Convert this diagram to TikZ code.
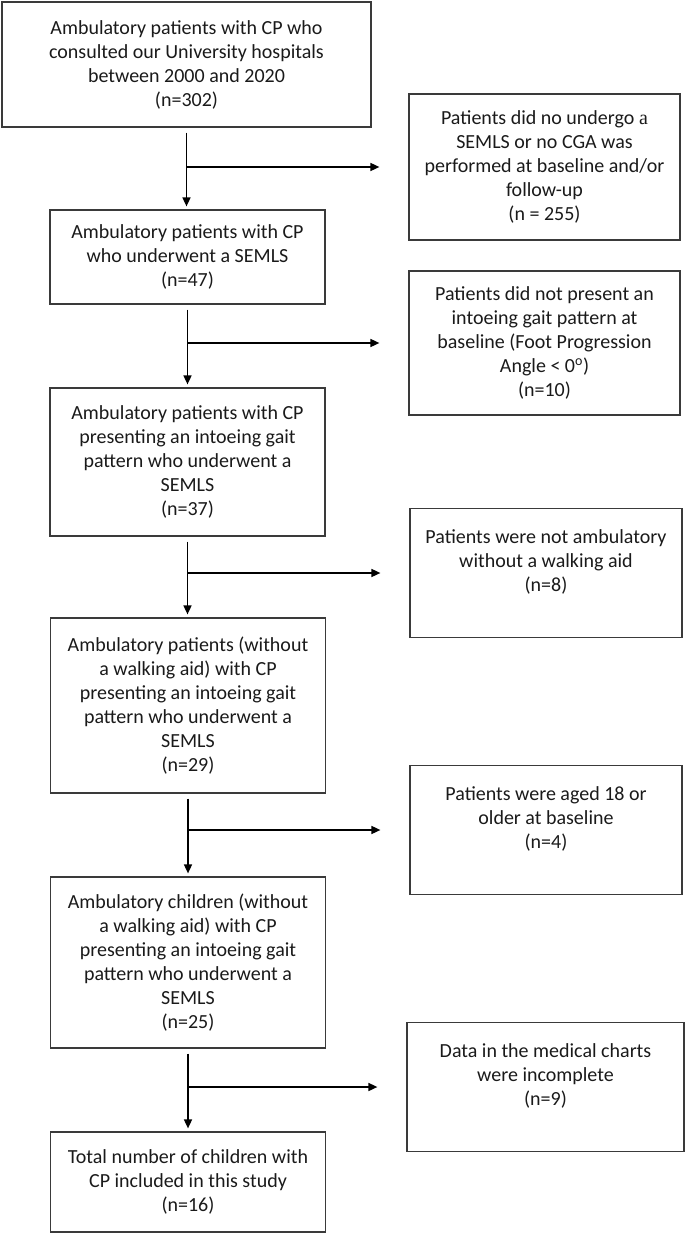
\documentclass[tikz,border=0pt]{standalone}
\usepackage{fontspec}
\setmainfont{Carlito}
\newfontfamily\serifa{Liberation Serif}
\usetikzlibrary{arrows.meta}
\definecolor{boxline}{HTML}{3A3A3A}
\definecolor{txt}{HTML}{1A1A1A}
\begin{document}
\begin{tikzpicture}[x=1pt,y=-1pt,
  flowbox/.style={draw=boxline,line width=1.2pt,inner sep=0pt,align=center,
    text=txt,font=\fontsize{20}{24}\selectfont},
  arr/.style={line width=1.6pt,-{Triangle[length=9pt,width=8pt]}},
  vline/.style={arr,shorten <=5pt,shorten >=3pt},
  hline/.style={arr,shorten >=29pt}]
\useasboundingbox (0,0) rectangle (685,1233);
% left column
\node[flowbox,minimum width=369pt,minimum height=125pt] (b1) at (186.5,64.5)
  {Ambulatory patients with CP who\\consulted our University hospitals\\between 2000 and 2020\\(n=302)};
\node[flowbox,minimum width=275pt,minimum height=94pt] (b2) at (187.5,257)
  {Ambulatory patients with CP\\who underwent a SEMLS\\(n=47)};
\node[flowbox,minimum width=275pt,minimum height=148pt] (b3) at (187.5,462)
  {Ambulatory patients with CP\\presenting an intoeing gait\\pattern who underwent a\\SEMLS\\(n=37)};
\node[flowbox,minimum width=275pt,minimum height=175pt] (b4) at (188,705.5)
  {Ambulatory patients (without\\a walking aid) with CP\\presenting an intoeing gait\\pattern who underwent a\\SEMLS\\(n=29)};
\node[flowbox,minimum width=275pt,minimum height=171pt] (b5) at (188,962.5)
  {Ambulatory children (without\\a walking aid) with CP\\presenting an intoeing gait\\pattern who underwent a\\SEMLS\\(n=25)};
\node[flowbox,minimum width=275pt,minimum height=100pt] (b6) at (188,1182)
  {Total number of children with\\CP included in this study\\(n=16)};
% right column
\node[flowbox,minimum width=271pt,minimum height=146pt] (r1) at (544.5,167)
  {Patients did no undergo {\serifa a}\\SEMLS or no CGA was\\performed at baseline and/or\\follow-up\\(n = 255)};
\node[flowbox,minimum width=271pt,minimum height=144pt] (r2) at (544.5,343)
  {Patients did not present an\\intoeing gait pattern at\\baseline (Foot Progression\\Angle < 0\textsuperscript{o})\\(n=10)};
\node[flowbox,minimum width=272pt,minimum height=129pt] (r3) at (546,573)
  {Patients were not ambulatory\\without a walking aid\\(n=8)\\~};
\node[flowbox,minimum width=272pt,minimum height=129pt] (r4) at (546,830)
  {Patients were aged 18 or\\older at baseline\\(n=4)\\~};
\node[flowbox,minimum width=277pt,minimum height=129pt] (r5) at (545.5,1087)
  {Data in the medical charts\\were incomplete\\(n=9)\\~};
% vertical arrows
\draw[vline] (b1.south) -- (b1.south |- b2.north);
\draw[vline] (b2.south) -- (b2.south |- b3.north);
\draw[vline] (b3.south) -- (b3.south |- b4.north);
\draw[vline] (b4.south) -- (b4.south |- b5.north);
\draw[vline] (b5.south) -- (b5.south |- b6.north);
% side arrows
\draw[hline] (b1.south |- r1.west) -- (r1.west);
\draw[hline] (b2.south |- r2.west) -- (r2.west);
\draw[hline] (b3.south |- r3.west) -- (r3.west);
\draw[hline] (b4.south |- r4.west) -- (r4.west);
\draw[hline] (b5.south |- r5.west) -- (r5.west);
\end{tikzpicture}
\end{document}
